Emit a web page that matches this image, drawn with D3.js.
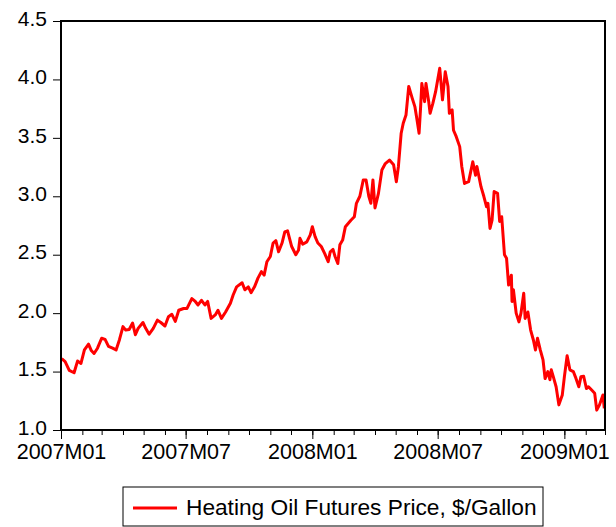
<!DOCTYPE html>
<html>
<head>
<meta charset="utf-8">
<script src="https://cdn.jsdelivr.net/npm/d3@7"></script>
<style>
  body { margin: 0; background: #fff; }
  text { font-family: "Liberation Sans", Arial, sans-serif; }
</style>
</head>
<body>
<script>
// daily heating oil futures (roughly twice a week)
const dates = [
  '2007-01-02','2007-01-07','2007-01-13','2007-01-20','2007-01-25','2007-01-30','2007-02-04','2007-02-10',
  '2007-02-14','2007-02-18','2007-02-23','2007-03-01','2007-03-06','2007-03-11','2007-03-17','2007-03-22',
  '2007-03-27','2007-04-01','2007-04-05','2007-04-10','2007-04-15','2007-04-19','2007-04-23','2007-04-30',
  '2007-05-04','2007-05-09','2007-05-15','2007-05-21','2007-05-26','2007-06-01','2007-06-06','2007-06-11',
  '2007-06-16','2007-06-21','2007-06-28','2007-07-03','2007-07-10','2007-07-15','2007-07-19','2007-07-24',
  '2007-07-29','2007-08-02','2007-08-07','2007-08-13','2007-08-17','2007-08-22','2007-08-28','2007-09-04',
  '2007-09-08','2007-09-13','2007-09-21','2007-09-25','2007-09-30','2007-10-04','2007-10-09','2007-10-14',
  '2007-10-19','2007-10-23','2007-10-27','2007-11-01','2007-11-05','2007-11-09','2007-11-13','2007-11-18',
  '2007-11-22','2007-11-26','2007-12-02','2007-12-08','2007-12-12','2007-12-14','2007-12-18','2007-12-24',
  '2007-12-29','2008-01-01','2008-01-05','2008-01-09','2008-01-14','2008-01-19','2008-01-24','2008-01-27',
  '2008-01-31','2008-02-03','2008-02-07','2008-02-10','2008-02-14','2008-02-18','2008-02-26','2008-03-02',
  '2008-03-05','2008-03-10','2008-03-15','2008-03-19','2008-03-23','2008-03-26','2008-03-29','2008-04-01',
  '2008-04-06','2008-04-11','2008-04-16','2008-04-22','2008-04-28','2008-05-02','2008-05-05','2008-05-09',
  '2008-05-12','2008-05-16','2008-05-20','2008-05-25','2008-05-29','2008-06-01','2008-06-04','2008-06-06',
  '2008-06-08','2008-06-12','2008-06-14','2008-06-18','2008-06-20','2008-06-24','2008-06-28','2008-07-04',
  '2008-07-08','2008-07-12','2008-07-16','2008-07-18','2008-07-22','2008-07-24','2008-07-28','2008-08-02',
  '2008-08-05','2008-08-09','2008-08-15','2008-08-21','2008-08-25','2008-08-27','2008-09-02','2008-09-06',
  '2008-09-10','2008-09-12','2008-09-15','2008-09-18','2008-09-21','2008-09-26','2008-09-29','2008-10-02',
  '2008-10-06','2008-10-09','2008-10-12','2008-10-16','2008-10-17','2008-10-19','2008-10-23','2008-10-27',
  '2008-10-30','2008-11-03','2008-11-05','2008-11-09','2008-11-13','2008-11-17','2008-11-20','2008-11-23',
  '2008-11-27','2008-12-01','2008-12-04','2008-12-08','2008-12-11','2008-12-13','2008-12-16','2008-12-20',
  '2008-12-24','2008-12-29','2009-01-01','2009-01-05','2009-01-09','2009-01-14','2009-01-17','2009-01-22',
  '2009-01-25','2009-01-29','2009-02-02','2009-02-05','2009-02-10','2009-02-14','2009-02-17','2009-02-21',
  '2009-02-26','2009-02-28'
]
const prices = [
  1.61, 1.585, 1.51, 1.49, 1.59, 1.57, 1.685, 1.735,
  1.68, 1.655, 1.70, 1.785, 1.775, 1.715, 1.70, 1.685,
  1.775, 1.885, 1.855, 1.86, 1.915, 1.815, 1.87, 1.92,
  1.87, 1.82, 1.87, 1.94, 1.92, 1.89, 1.97, 1.99,
  1.93, 2.025, 2.04, 2.04, 2.125, 2.10, 2.07, 2.11,
  2.07, 2.10, 1.955, 1.985, 2.025, 1.955, 2.01, 2.085,
  2.155, 2.225, 2.26, 2.20, 2.225, 2.175, 2.225, 2.30,
  2.355, 2.325, 2.44, 2.485, 2.60, 2.62, 2.525, 2.60,
  2.695, 2.705, 2.57, 2.50, 2.54, 2.64, 2.59, 2.61,
  2.67, 2.74, 2.655, 2.60, 2.57, 2.51, 2.44, 2.525,
  2.545, 2.485, 2.425, 2.585, 2.625, 2.74, 2.795, 2.825,
  2.94, 3.00, 3.14, 3.14, 3.00, 2.94, 3.14, 2.90,
  3.025, 3.225, 3.28, 3.31, 3.27, 3.125, 3.255, 3.54,
  3.625, 3.695, 3.94, 3.84, 3.765, 3.655, 3.54, 3.74,
  3.965, 3.81, 3.965, 3.81, 3.71, 3.795, 3.895, 4.095,
  3.825, 4.065, 3.94, 3.71, 3.74, 3.565, 3.51, 3.425,
  3.255, 3.11, 3.125, 3.295, 3.18, 3.255, 3.08, 3.00,
  2.91, 2.94, 2.725, 2.795, 3.04, 3.025, 2.785, 2.825,
  2.50, 2.47, 2.24, 2.325, 2.10, 2.20, 2.00, 1.925,
  2.00, 2.17, 1.955, 2.01, 1.855, 1.77, 1.685, 1.785,
  1.685, 1.60, 1.44, 1.50, 1.43, 1.515, 1.455, 1.37,
  1.215, 1.30, 1.455, 1.635, 1.515, 1.50, 1.455, 1.37,
  1.455, 1.46, 1.355, 1.37, 1.34, 1.315, 1.17, 1.215,
  1.30, 1.185
]
const yTicks = [1.0, 1.5, 2.0, 2.5, 3.0, 3.5, 4.0, 4.5]
const seriesName = 'Heating Oil Futures Price, $/Gallon'

const W = 616, H = 527
const margin = {top: 21, right: 11, bottom: 97, left: 61}
const width = W - margin.left - margin.right
const height = H - margin.top - margin.bottom

const parse = d3.timeParse('%Y-%m-%d')
const data = dates.map((d, i) => ({date: parse(d), value: prices[i]}))

const svg = d3.select('body').append('svg')
  .attr('width', W)
  .attr('height', H)

svg.append('rect').attr('width', W).attr('height', H).attr('fill', '#fff')

const g = svg.append('g')
  .attr('transform', `translate(${margin.left},${margin.top})`)

const x = d3.scaleTime()
  .domain([parse('2007-01-01'), parse('2009-03-01')])
  .range([0, width])

const y = d3.scaleLinear()
  .domain([1.0, 4.5])
  .range([height, 0])

// y轴
const yAxis = g.append('g')
  .call(d3.axisLeft(y).tickValues(yTicks).tickFormat(d3.format('.1f')).tickSize(8).tickPadding(6))
yAxis.select('.domain').remove()
yAxis.selectAll('text')
  .attr('dy', '0.2em')
  .style('font-size', '21px')
  .attr('fill', '#000')

// x轴: 月份小刻度 + 半年大刻度
const xMinor = g.append('g')
  .attr('transform', `translate(0,${height})`)
  .call(d3.axisBottom(x).ticks(d3.timeMonth.every(1)).tickSize(5).tickFormat(''))
xMinor.select('.domain').remove()

const xMajor = g.append('g')
  .attr('transform', `translate(0,${height})`)
  .call(d3.axisBottom(x).ticks(d3.timeMonth.every(6)).tickSize(9).tickPadding(5).tickFormat(d3.timeFormat('%YM%m')))
xMajor.select('.domain').remove()
xMajor.selectAll('text')
  .style('font-size', '21.5px')
  .attr('fill', '#000')

g.selectAll('.tick line').attr('stroke', '#000')

// 折线
const line = d3.line()
  .x(d => x(d.date))
  .y(d => y(d.value))

g.append('path')
  .datum(data)
  .attr('fill', 'none')
  .attr('stroke', '#ff0000')
  .attr('stroke-width', 3)
  .attr('stroke-linejoin', 'round')
  .attr('d', line)

// 边框
g.append('rect')
  .attr('width', width)
  .attr('height', height)
  .attr('fill', 'none')
  .attr('stroke', '#000')
  .attr('stroke-width', 2)

// 图例
const legend = svg.append('g').attr('transform', 'translate(123,487)')
legend.append('rect')
  .attr('width', 420)
  .attr('height', 39)
  .attr('fill', '#fff')
  .attr('stroke', '#000')
  .attr('stroke-width', 1)
legend.append('line')
  .attr('x1', 10).attr('x2', 54)
  .attr('y1', 21).attr('y2', 21)
  .attr('stroke', '#ff0000')
  .attr('stroke-width', 3)
legend.append('text')
  .attr('x', 63)
  .attr('y', 28)
  .style('font-size', '22.7px')
  .attr('fill', '#000')
  .text(seriesName)
</script>
</body>
</html>
